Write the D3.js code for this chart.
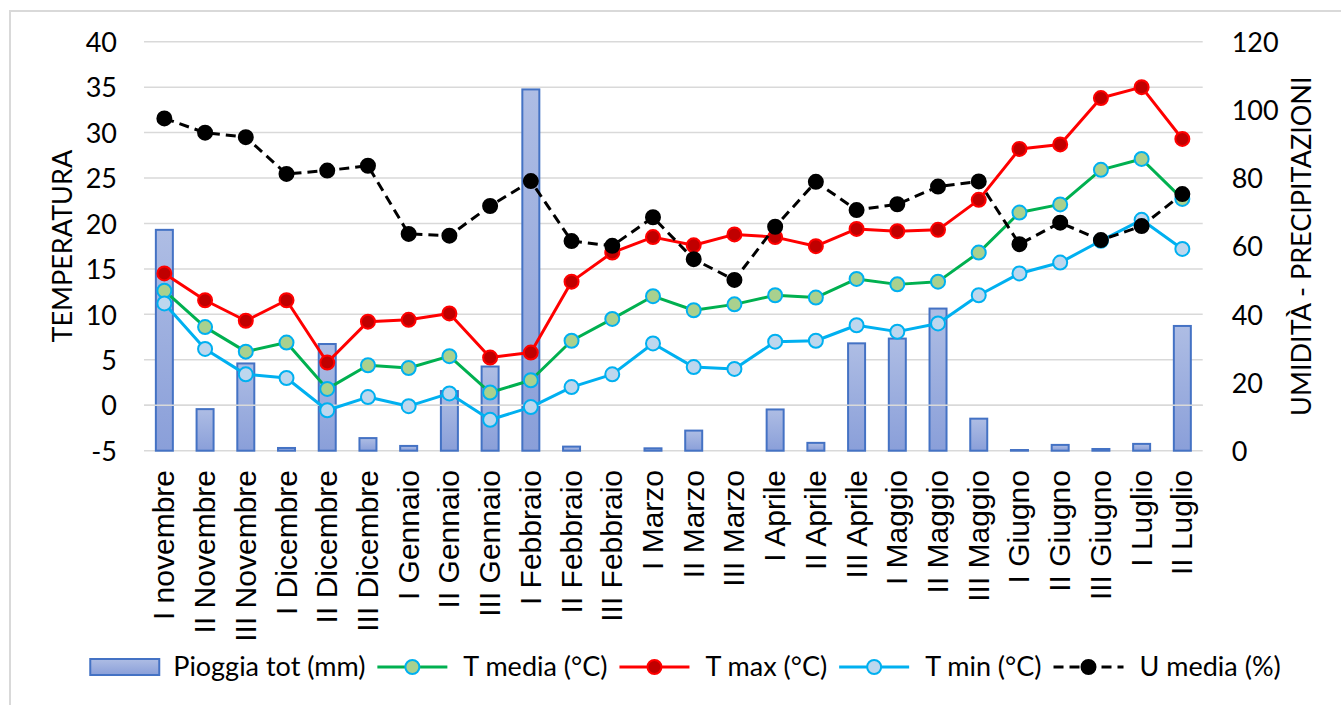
<!DOCTYPE html>
<html>
<head>
<meta charset="utf-8">
<script src="https://cdn.jsdelivr.net/npm/d3@7/dist/d3.min.js"></script>
<style>
  html, body { margin: 0; padding: 0; background: #fff; }
  svg { display: block; }
</style>
</head>
<body>
<svg id="chart" width="1341" height="705"></svg>
<script>
// Decadi (periodi di dieci giorni) da novembre a luglio
const categories = [
  "I novembre", "II Novembre", "III Novembre",
  "I Dicembre", "II Dicembre", "III Dicembre",
  "I Gennaio", "II Gennaio", "III Gennaio",
  "I Febbraio", "II Febbraio", "III Febbraio",
  "I Marzo", "II Marzo", "III Marzo",
  "I Aprile", "II Aprile", "III Aprile",
  "I Maggio", "II Maggio", "III Maggio",
  "I Giugno", "II Giugno", "III Giugno",
  "I Luglio", "II Luglio"
];

// Pioggia totale (mm) - asse destro
const pioggia = [64.8, 12.2, 25.6, 0.8, 31.3, 3.7, 1.4, 17.5, 24.7, 106.0, 1.2, 0, 0.7, 5.9, 0, 12.1, 2.3, 31.5, 32.9, 41.7, 9.4, 0.2, 1.7, 0.5, 2.0, 36.6];

// Temperature (°C) - asse sinistro
const tMedia = [12.6, 8.6, 5.9, 6.9, 1.8, 4.4, 4.1, 5.4, 1.4, 2.75, 7.1, 9.5, 12.0, 10.45, 11.1, 12.1, 11.85, 13.9, 13.3, 13.6, 16.8, 21.2, 22.1, 25.9, 27.1, 22.7];
const tMax   = [14.5, 11.55, 9.3, 11.55, 4.7, 9.2, 9.4, 10.1, 5.25, 5.8, 13.6, 16.8, 18.5, 17.6, 18.8, 18.5, 17.5, 19.4, 19.15, 19.3, 22.6, 28.2, 28.7, 33.8, 35.0, 29.3];
const tMin   = [11.2, 6.2, 3.4, 3.0, -0.55, 0.9, -0.1, 1.3, -1.6, -0.2, 2.0, 3.4, 6.8, 4.2, 4.0, 7.0, 7.1, 8.8, 8.1, 9.0, 12.1, 14.5, 15.7, 18.1, 20.4, 17.2];

// Umidità media (%) - asse destro
const uMedia = [97.5, 93.3, 92.0, 81.2, 82.2, 83.6, 63.6, 63.1, 71.8, 79.1, 61.5, 60.1, 68.5, 56.2, 50.1, 65.7, 78.9, 70.6, 72.3, 77.5, 79.0, 60.6, 66.9, 61.8, 65.9, 75.3];

// Tacche degli assi
const leftTicks = [-5, 0, 5, 10, 15, 20, 25, 30, 35, 40];
const rightTicks = [0, 20, 40, 60, 80, 100, 120];

const legendLabels = ["Pioggia tot (mm)", "T media (°C)", "T max (°C)", "T min (°C)", "U media (%)"];

const W = 1341, H = 705;
const plot = { left: 144, right: 1202.7, top: 41.7, bottom: 450.7 };
const uiFont = "Lato, 'Open Sans', sans-serif";
const catFont = "'Liberation Sans', Arial, sans-serif";

const svg = d3.select("#chart");

// Cornice esterna
svg.append("rect")
  .attr("x", 10).attr("y", 11)
  .attr("width", W + 20).attr("height", H + 20)
  .attr("fill", "none").attr("stroke", "#d9d9d9").attr("stroke-width", 2);

const x = d3.scaleBand().domain(categories).range([plot.left, plot.right]).padding(0);
const yL = d3.scaleLinear().domain([-5, 40]).range([plot.bottom, plot.top]);
const yR = d3.scaleLinear().domain([0, 120]).range([plot.bottom, plot.top]);
const cx = d => x(d) + x.bandwidth() / 2;

// Griglia orizzontale
svg.append("g")
  .selectAll("line").data(leftTicks).join("line")
  .attr("x1", plot.left).attr("x2", plot.right)
  .attr("y1", d => yL(d)).attr("y2", d => yL(d))
  .attr("stroke", "#d9d9d9").attr("stroke-width", 1.5);

// Asse sinistro (trattino semplice per i negativi)
const axL = svg.append("g")
  .attr("transform", `translate(${plot.left - 27},0)`)
  .call(d3.axisLeft(yL).tickValues(leftTicks).tickSize(0).tickPadding(0).tickFormat(d => String(d)));
axL.select(".domain").remove();
axL.selectAll("text").attr("font-family", uiFont).attr("font-size", 27).attr("fill", "#000").attr("dy", "0.36em");

// Asse destro
const axR = svg.append("g")
  .attr("transform", `translate(${plot.right + 29},0)`)
  .call(d3.axisRight(yR).tickValues(rightTicks).tickSize(0).tickPadding(0).tickFormat(d => String(d)));
axR.select(".domain").remove();
axR.selectAll("text").attr("font-family", uiFont).attr("font-size", 27).attr("fill", "#000").attr("dy", "0.36em");

// Titoli degli assi
svg.append("text")
  .attr("transform", `translate(72,${(plot.top + plot.bottom) / 2}) rotate(-90)`)
  .attr("text-anchor", "middle")
  .attr("font-family", uiFont).attr("font-size", 27)
  .text("TEMPERATURA");
svg.append("text")
  .attr("transform", `translate(1311,${(plot.top + plot.bottom) / 2}) rotate(-90)`)
  .attr("text-anchor", "middle")
  .attr("font-family", uiFont).attr("font-size", 27)
  .text("UMIDITÀ - PRECIPITAZIONI");

// Gradiente delle barre
const defs = svg.append("defs");
const grad = defs.append("linearGradient").attr("id", "barGrad")
  .attr("x1", 0).attr("y1", 0).attr("x2", 0).attr("y2", 1);
grad.append("stop").attr("offset", "0%").attr("stop-color", "#aebde4");
grad.append("stop").attr("offset", "100%").attr("stop-color", "#8a9fd9");

// Barre della pioggia
const barW = 17;
const barData = categories.map((c, i) => ({ c, v: pioggia[i] })).filter(d => d.v > 0);
svg.append("g")
  .selectAll("rect").data(barData).join("rect")
  .attr("x", d => cx(d.c) - barW / 2)
  .attr("y", d => yR(d.v))
  .attr("width", barW)
  .attr("height", d => yR(0) - yR(d.v))
  .attr("fill", "url(#barGrad)")
  .attr("stroke", "#4472c4").attr("stroke-width", 2);

// Linea dell'asse delle categorie (a 0 °C)
svg.append("line")
  .attr("x1", plot.left).attr("x2", plot.right)
  .attr("y1", yL(0)).attr("y2", yL(0))
  .attr("stroke", "#d9d9d9").attr("stroke-width", 1.5);

// Etichette delle categorie
svg.append("g")
  .selectAll("text").data(categories).join("text")
  .attr("transform", d => `translate(${cx(d) + 10},470) rotate(-90)`)
  .attr("text-anchor", "end")
  .attr("font-family", catFont).attr("font-size", 30)
  .attr("fill", "#000")
  .text(d => d);

// Serie a linee
const series = [
  { values: tMedia, scale: yL, line: "#00b050", fill: "#a9d18e", mstroke: "#00b0f0", dash: null },
  { values: tMax,   scale: yL, line: "#ff0000", fill: "#c00000", mstroke: "#ff0000", dash: null },
  { values: tMin,   scale: yL, line: "#00b0f0", fill: "#bdd7ee", mstroke: "#00b0f0", dash: null },
  { values: uMedia, scale: yR, line: "#000000", fill: "#000000", mstroke: "#000000", dash: "10,6" }
];

series.forEach(s => {
  const g = svg.append("g");
  const lineGen = d3.line().x((d, i) => cx(categories[i])).y(d => s.scale(d));
  g.append("path")
    .attr("d", lineGen(s.values))
    .attr("fill", "none")
    .attr("stroke", s.line).attr("stroke-width", 3)
    .attr("stroke-dasharray", s.dash)
    .attr("stroke-linejoin", "round");
  g.selectAll("circle").data(s.values).join("circle")
    .attr("cx", (d, i) => cx(categories[i]))
    .attr("cy", d => s.scale(d))
    .attr("r", 7)
    .attr("fill", s.fill)
    .attr("stroke", s.mstroke).attr("stroke-width", 2);
});

// Legenda
const leg = svg.append("g");
const legY = 667;
let lx = 0;
const g0 = leg.append("g");
g0.append("rect").attr("x", 0).attr("y", legY - 8).attr("width", 69).attr("height", 16)
  .attr("fill", "url(#barGrad)").attr("stroke", "#4472c4").attr("stroke-width", 2);
const t0 = g0.append("text").attr("x", 83).attr("y", legY).attr("dy", "0.35em")
  .attr("font-family", uiFont).attr("font-size", 27).text(legendLabels[0]);
lx = 83 + t0.node().getComputedTextLength();

series.forEach((s, k) => {
  const g = leg.append("g");
  const x0 = lx + 12;
  g.append("line").attr("x1", x0).attr("x2", x0 + 70).attr("y1", legY).attr("y2", legY)
    .attr("stroke", s.line).attr("stroke-width", 3).attr("stroke-dasharray", s.dash);
  g.append("circle").attr("cx", x0 + 35).attr("cy", legY).attr("r", 7)
    .attr("fill", s.fill).attr("stroke", s.mstroke).attr("stroke-width", 2);
  const t = g.append("text").attr("x", x0 + 70 + 16).attr("y", legY).attr("dy", "0.35em")
    .attr("font-family", uiFont).attr("font-size", 27).text(legendLabels[k + 1]);
  lx = x0 + 86 + t.node().getComputedTextLength();
});
const legCenter = (89 + 1282) / 2;
leg.attr("transform", `translate(${legCenter - lx / 2},0)`);
</script>
</body>
</html>
